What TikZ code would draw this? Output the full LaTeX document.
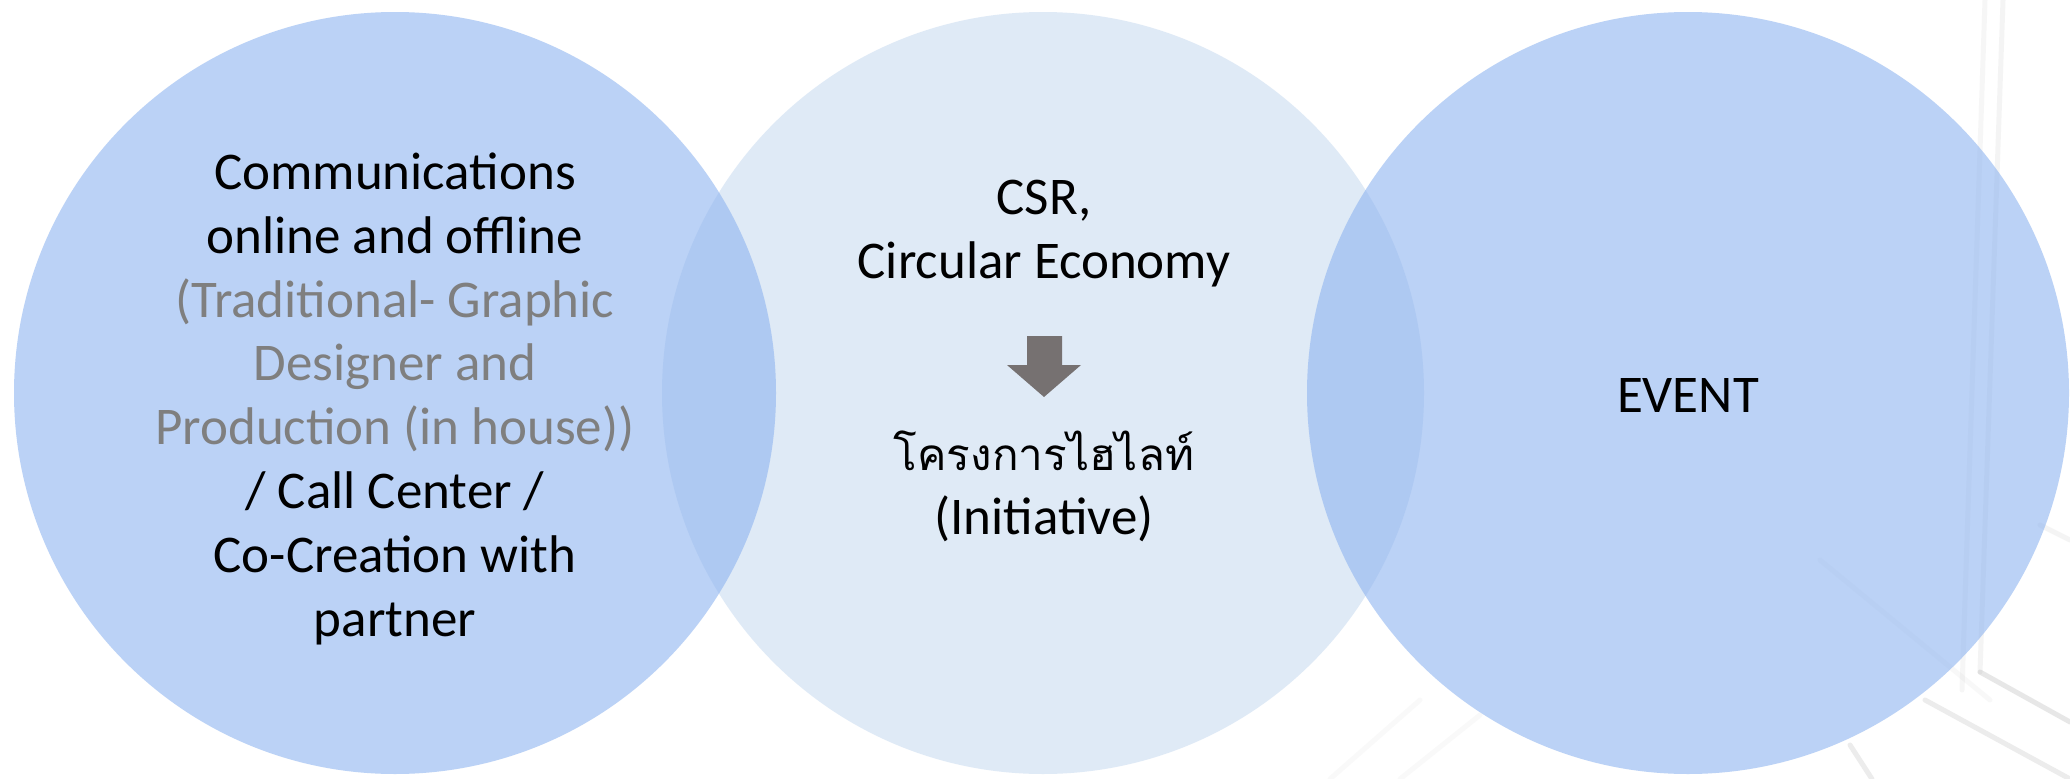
\documentclass[tikz,border=0pt]{standalone}
\usepackage{fontspec}
\setmainfont{Carlito}
\newfontfamily\thaifont[Script=Thai]{Loma}
\definecolor{bluefill}{RGB}{142,180,240}
\definecolor{palefill}{RGB}{198,217,240}
\definecolor{arrowgrey}{RGB}{118,113,113}
\definecolor{softtext}{RGB}{127,127,127}
\definecolor{framegrey}{RGB}{150,150,150}
\begin{document}
\begin{tikzpicture}[x=1pt,y=-1pt,
  bubble/.style={circle,minimum size=762pt,inner sep=0pt,fill opacity=0.6},
  label/.style={align=center,anchor=base,inner sep=0pt,
    font=\fontsize{53}{63.8}\selectfont},
  frameline/.style={draw=framegrey,line width=5pt,opacity=0.14,line cap=round}]
  \useasboundingbox[fill=white] (0,0) rectangle (2070,779);

  % faint window frame behind the bubbles
  \draw[frameline,opacity=0.1] (2003,0) -- (1980,672);
  \draw[frameline,opacity=0.22] (1980,672) -- (2070,722);
  \draw[frameline,opacity=0.08] (1985,0) -- (1962,690);
  \draw[frameline,opacity=0.18] (1925,700) -- (2070,779);
  \draw[frameline,opacity=0.18] (1850,745) -- (1872,779);
  \draw[frameline,opacity=0.1] (2040,525) -- (2070,540);
  \draw[frameline,opacity=0.06] (1820,560) -- (1990,700);
  \draw[frameline,opacity=0.05] (1330,779) -- (1420,700);
  \draw[frameline,opacity=0.05] (1400,779) -- (1480,715);

  % three overlapping bubbles
  \node[bubble,fill=palefill,fill opacity=0.55] (mid) at (1043,393) {};
  \node[bubble,fill=bluefill] (left) at (395,393) {};
  \node[bubble,fill=bluefill] (right) at (1688,393) {};

  % texts (base anchor sits on the last line)
  \node[label] (comm) at (395,636) {Communications\\online and offline\\
    \textcolor{softtext}{(Traditional- Graphic}\\
    \textcolor{softtext}{Designer and}\\
    \textcolor{softtext}{Production (in house))}\\
    / Call Center /\\Co-Creation with\\partner};
  \node[label] (csr) at (1044,278) {CSR,\\Circular Economy};
  \node[label] (init) at (1044,534) {{\thaifont\fontsize{44}{63.8}\selectfont โครงการไฮไลท์}\\(Initiative)};
  \node[label] (event) at (1688,412) {EVENT};

  % block arrow from the CSR text to the initiative
  \fill[arrowgrey] (1027,336) -- (1062,336) -- (1062,365) -- (1081,365)
    -- (1044,397) -- (1007,365) -- (1027,365) -- cycle;
\end{tikzpicture}
\end{document}
